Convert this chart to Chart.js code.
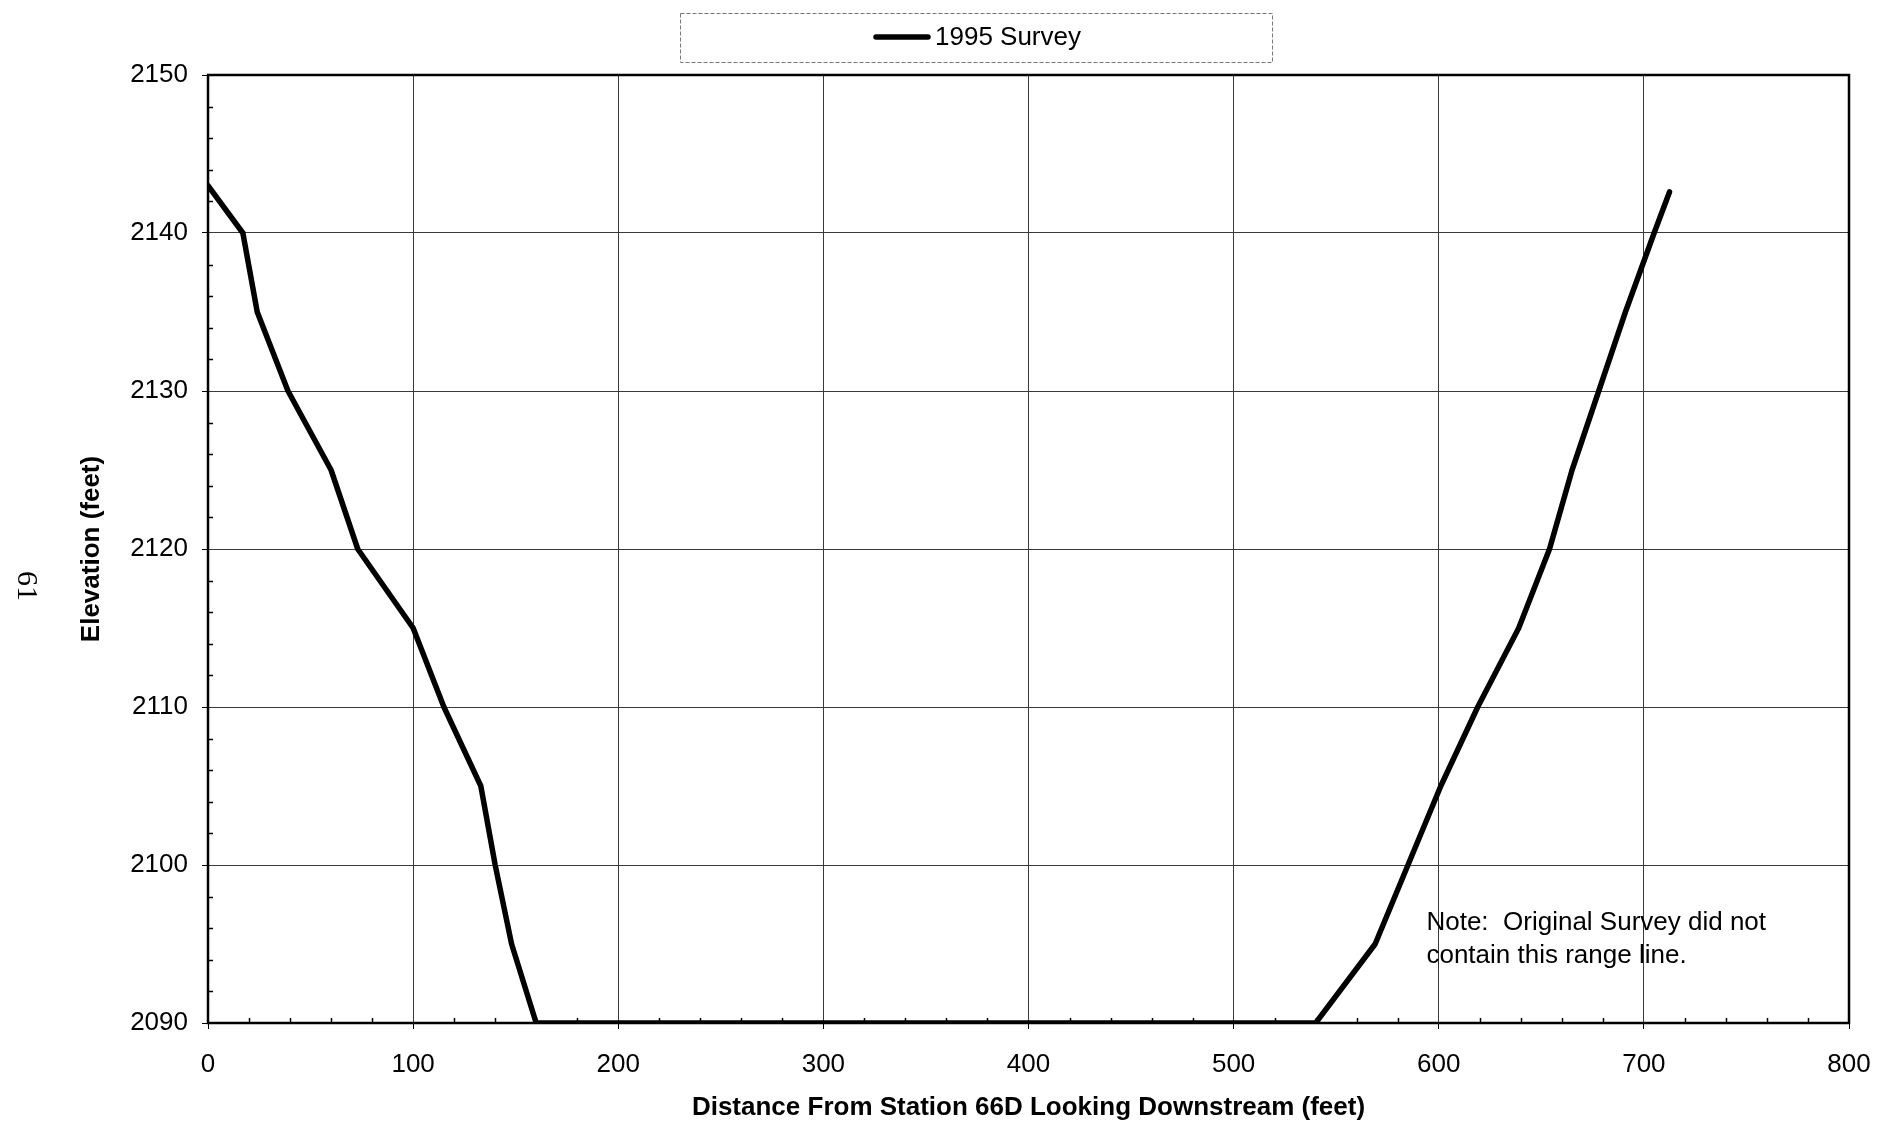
<!DOCTYPE html>
<html>
<head>
<meta charset="utf-8">
<script src="https://cdn.jsdelivr.net/npm/chart.js@4.4.1/dist/chart.umd.min.js"></script>
<style>
  html, body { margin: 0; padding: 0; background: #fff; }
  #wrap { width: 1881px; height: 1127px; }
</style>
</head>
<body>
<div id="wrap"><canvas id="c" width="1881" height="1127"></canvas></div>
<script>
// Cross-section survey: distance across the channel (ft) vs. ground elevation (ft)
const distance  = [0, 17, 24, 39, 60, 73, 100, 115, 133, 140, 148, 160, 540, 569, 585, 601, 619, 639, 654, 665, 678, 691, 705, 712.5];
const elevation = [2143, 2140, 2135, 2130, 2125, 2120, 2115, 2110, 2105, 2100, 2095, 2090, 2090, 2095, 2100, 2105, 2110, 2115, 2120, 2125, 2130, 2135, 2140, 2142.6];
const seriesLabel = '1995 Survey';

const xTicks = [0, 100, 200, 300, 400, 500, 600, 700, 800];
const yTicks = [2090, 2100, 2110, 2120, 2130, 2140, 2150];
const xMinorStep = 20;
const yMinorStep = 2;

const xTitle = 'Distance From Station 66D Looking Downstream (feet)';
const yTitle = 'Elevation (feet)';
const noteLines = ['Note:  Original Survey did not', 'contain this range line.'];
const noteAnchor = { x: 594, y: 2095.9 };
const pageNumber = '61';

const SANS = '"Liberation Sans", Arial, sans-serif';

const points = distance.map((d, i) => ({ x: d, y: elevation[i] }));

// Frame, minor tick marks, boxed legend, note and page number
const decorations = {
  id: 'decorations',
  beforeDatasetsDraw(chart) {
    const { ctx, chartArea: a, scales: { x, y } } = chart;
    ctx.save();
    ctx.strokeStyle = '#000';
    ctx.lineWidth = 1.5;
    ctx.beginPath();
    for (let v = x.min; v <= x.max; v += xMinorStep) {
      if (v % 100 === 0) continue;
      const px = Math.round(x.getPixelForValue(v)) + 0.5;
      ctx.moveTo(px, a.bottom);
      ctx.lineTo(px, a.bottom - 5);
    }
    for (let v = y.min; v <= y.max; v += yMinorStep) {
      if (v % 10 === 0) continue;
      const py = Math.round(y.getPixelForValue(v)) + 0.5;
      ctx.moveTo(a.left, py);
      ctx.lineTo(a.left + 5, py);
    }
    ctx.stroke();
    ctx.lineWidth = 2.5;
    ctx.strokeRect(a.left, a.top, a.right - a.left, a.bottom - a.top);
    ctx.restore();
  },
  afterDraw(chart) {
    const { ctx, scales: { x, y } } = chart;
    ctx.save();
    // legend box
    ctx.strokeStyle = '#777';
    ctx.lineWidth = 1;
    ctx.setLineDash([4, 2]);
    ctx.strokeRect(680.5, 13.5, 592, 49);
    ctx.setLineDash([]);
    ctx.strokeStyle = '#000';
    ctx.lineWidth = 5.5;
    ctx.lineCap = 'round';
    ctx.beginPath();
    ctx.moveTo(876, 37);
    ctx.lineTo(928, 37);
    ctx.stroke();
    ctx.fillStyle = '#000';
    ctx.font = '26px ' + SANS;
    ctx.textBaseline = 'middle';
    ctx.textAlign = 'left';
    ctx.fillText(seriesLabel, 935, 38);

    // note
    ctx.textBaseline = 'alphabetic';
    const nx = x.getPixelForValue(noteAnchor.x);
    const ny = y.getPixelForValue(noteAnchor.y);
    noteLines.forEach((t, i) => ctx.fillText(t, nx, ny + i * 33));

    // page number, turned sideways
    ctx.translate(26, 586);
    ctx.rotate(Math.PI / 2);
    ctx.font = '30px "Liberation Serif", "Times New Roman", serif';
    ctx.textAlign = 'center';
    ctx.textBaseline = 'middle';
    ctx.fillText(pageNumber, 0, 0);
    ctx.restore();
  }
};

new Chart(document.getElementById('c'), {
  type: 'line',
  data: {
    datasets: [{
      label: seriesLabel,
      data: points,
      borderColor: '#000',
      borderWidth: 5.5,
      borderCapStyle: 'round',
      borderJoinStyle: 'round',
      pointRadius: 0,
      tension: 0,
      fill: false
    }]
  },
  options: {
    responsive: false,
    animation: false,
    devicePixelRatio: 1,
    parsing: false,
    layout: { padding: { top: 75, right: 32, left: 0, bottom: 0 } },
    plugins: {
      legend: { display: false },
      tooltip: { enabled: false }
    },
    scales: {
      x: {
        type: 'linear',
        min: 0,
        max: 800,
        afterBuildTicks: s => { s.ticks = xTicks.map(v => ({ value: v })); },
        afterFit: s => { s.height = 104; s.paddingLeft = 0; s.paddingRight = 0; },
        grid: { color: '#3a3a3a', lineWidth: 1, tickLength: 6, tickColor: '#000' },
        border: { display: false },
        ticks: {
          color: '#000',
          font: { family: SANS, size: 26 },
          padding: 20,
          maxRotation: 0,
          callback: v => String(v)
        },
        title: {
          display: true,
          text: xTitle,
          color: '#000',
          font: { family: SANS, size: 26, weight: 'bold' },
          padding: { top: 0, bottom: 4 }
        }
      },
      y: {
        type: 'linear',
        min: 2090,
        max: 2150,
        afterBuildTicks: s => { s.ticks = yTicks.map(v => ({ value: v })); },
        afterFit: s => { s.width = 208; s.paddingTop = 0; s.paddingBottom = 0; },
        grid: { color: '#3a3a3a', lineWidth: 1, tickLength: 6, tickColor: '#000' },
        border: { display: false },
        ticks: {
          color: '#000',
          font: { family: SANS, size: 26 },
          padding: 14,
          callback: v => String(v)
        },
        title: {
          display: true,
          text: yTitle,
          color: '#000',
          font: { family: SANS, size: 26, weight: 'bold' },
          padding: { top: 76, bottom: 0 }
        }
      }
    }
  },
  plugins: [decorations]
});
</script>
</body>
</html>
